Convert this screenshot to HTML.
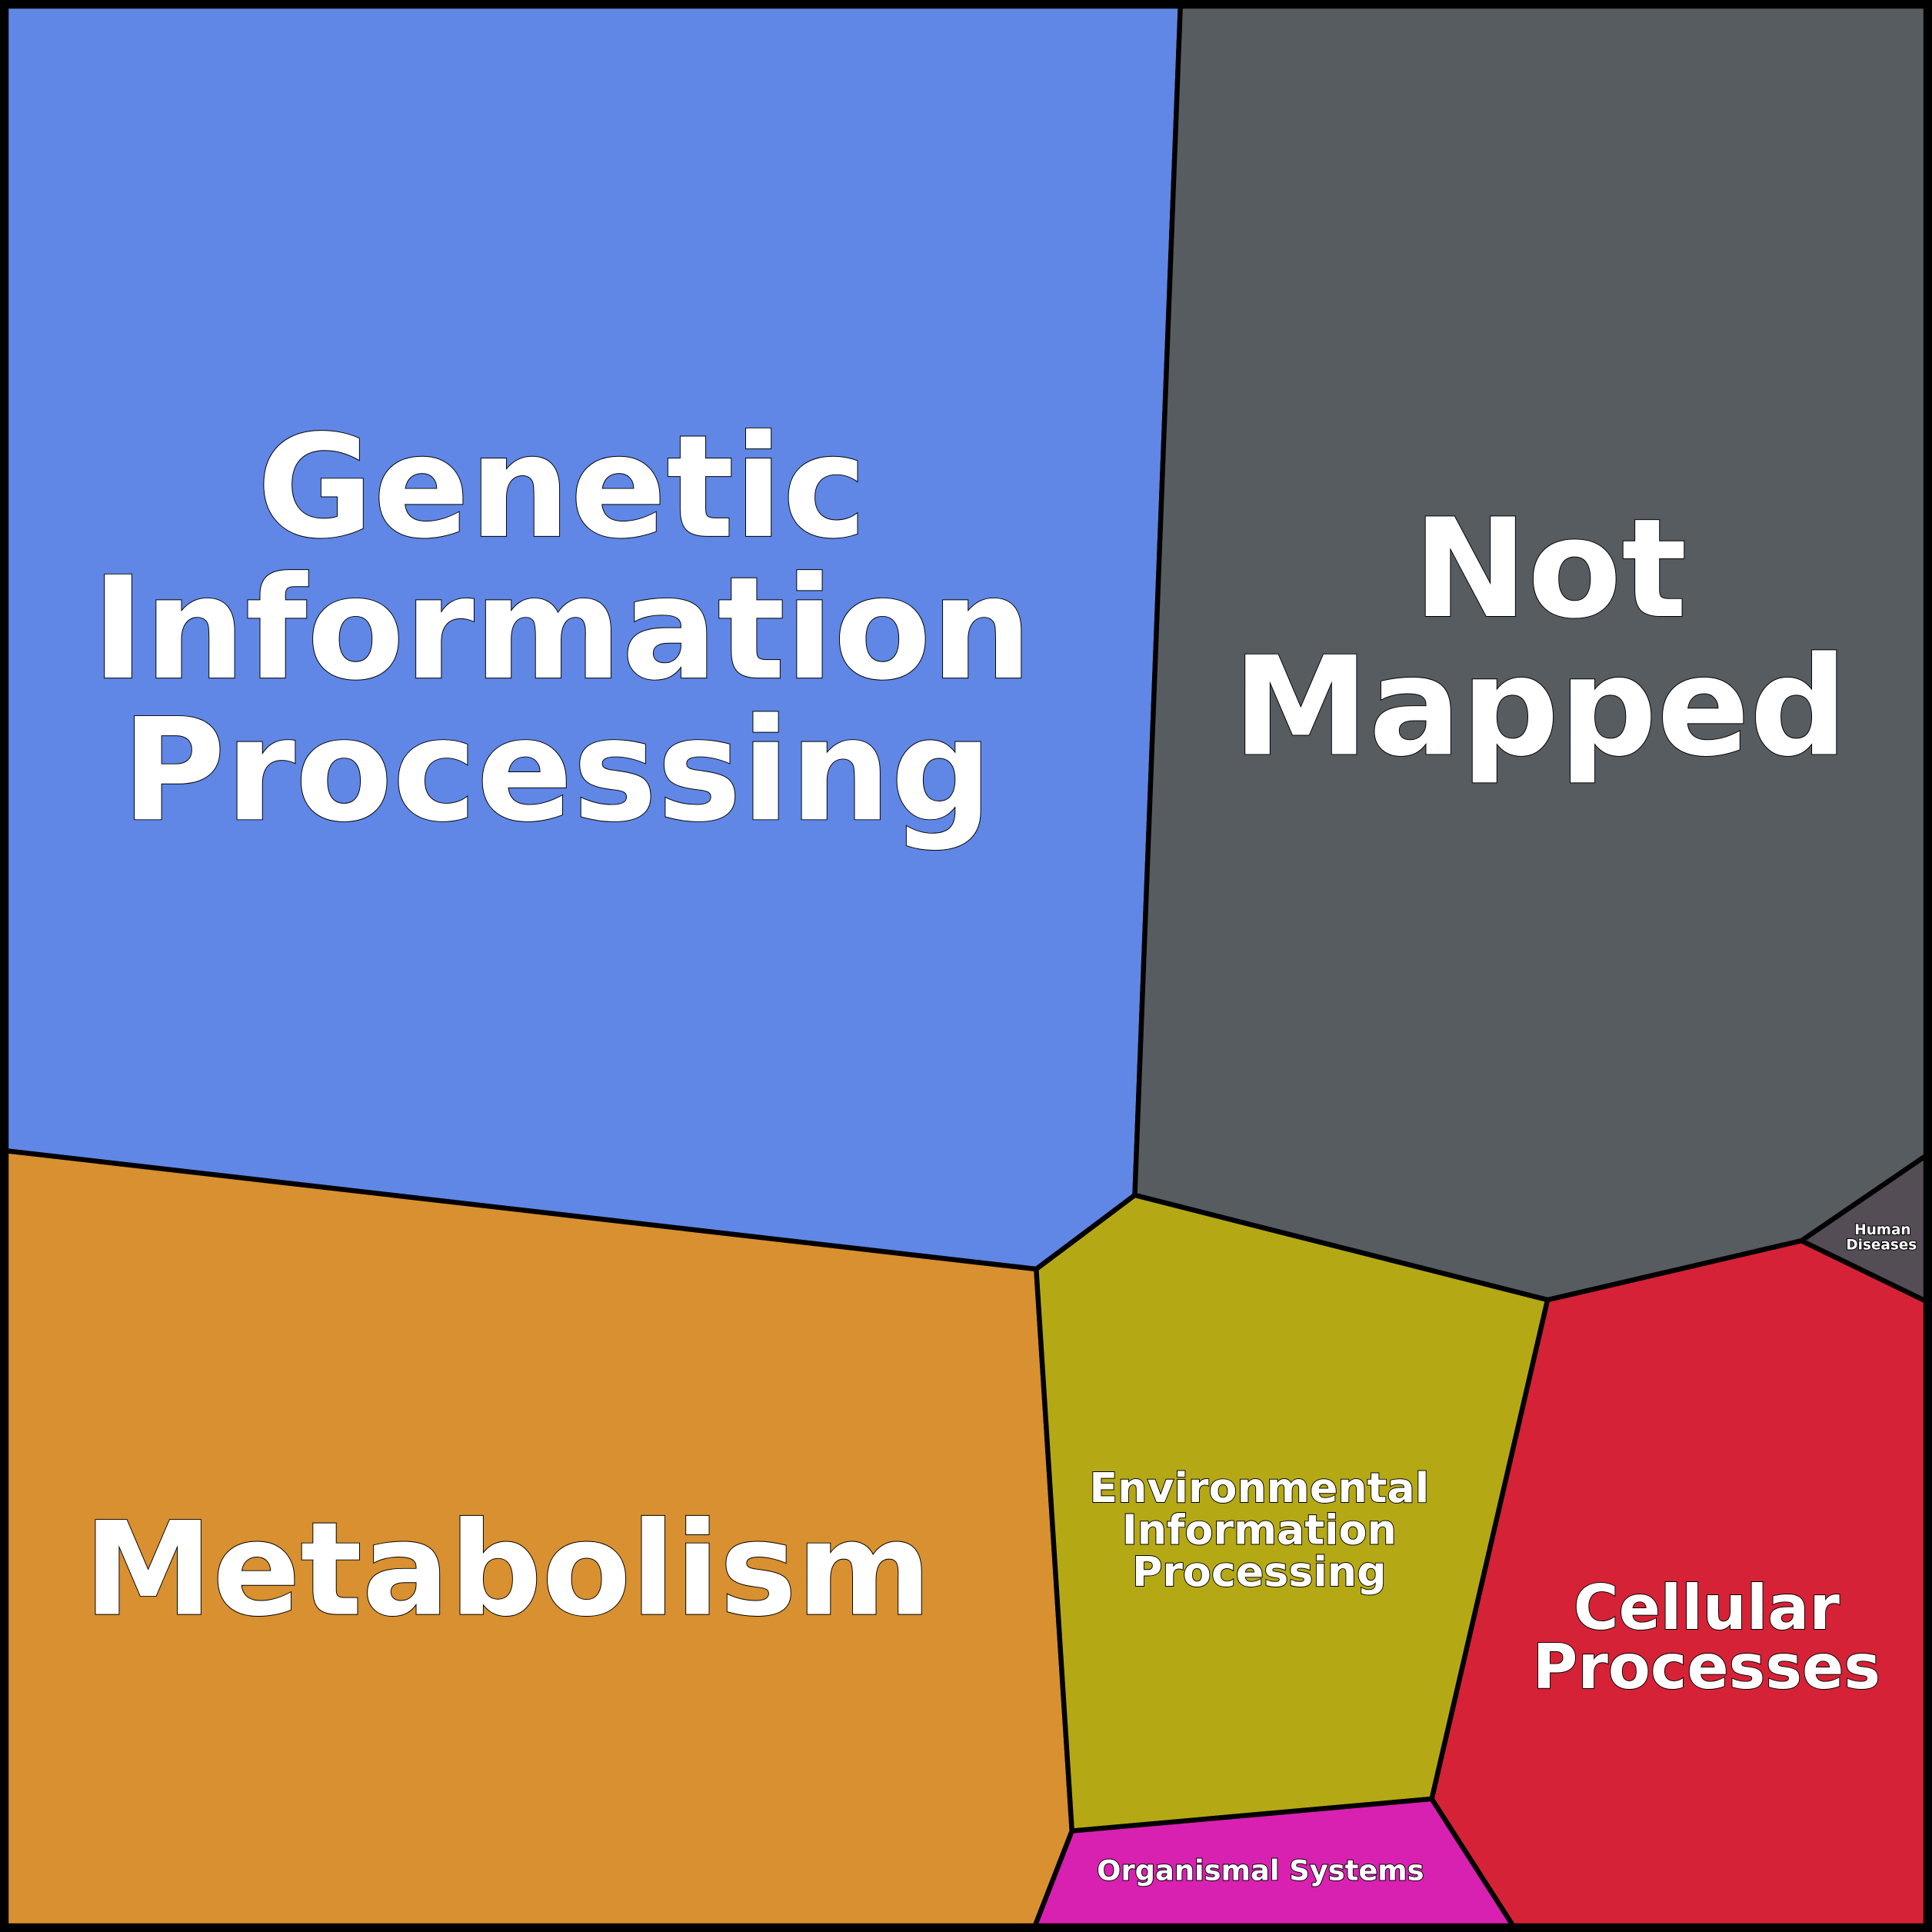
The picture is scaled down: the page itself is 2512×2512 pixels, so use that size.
<!DOCTYPE html>
<html><head><meta charset="utf-8"><style>html,body{margin:0;padding:0;background:#000}svg{display:block}text{font-family:"DejaVu Sans","Liberation Sans",sans-serif;font-weight:bold;fill:#fff;stroke:#000;stroke-width:1.2;paint-order:stroke;text-anchor:middle}</style></head><body>
<svg width="2512" height="2512" viewBox="0 0 1568 1568" xmlns="http://www.w3.org/2000/svg">
<rect x="0" y="0" width="1568" height="1568" fill="#000"/>
<g stroke="#000" stroke-width="4" stroke-linejoin="round">
<polygon points="5,5 958,5 921,970 841,1030 5,934" fill="#6087e5"/>
<polygon points="958,5 1563,5 1563,938 1462,1007 1256,1055 921,970" fill="#575c61"/>
<polygon points="1563,938 1462,1007 1563,1056" fill="#544d55"/>
<polygon points="5,934 841,1030 870,1486 840,1563 5,1563" fill="#d89030"/>
<polygon points="841,1030 921,970 1256,1055 1162,1460 870,1486" fill="#b5a815"/>
<polygon points="1256,1055 1462,1007 1563,1056 1563,1563 1228,1563 1162,1460" fill="#d62236"/>
<polygon points="870,1486 1162,1460 1228,1563 840,1563" fill="#d821b0"/>
</g>
<rect x="3" y="3" width="1562" height="1562" fill="none" stroke="#000" stroke-width="6"/>
<g font-size="115">
<text x="456" y="435">Genetic</text>
<text x="456" y="550">Information</text>
<text x="452" y="665">Processing</text>
</g>
<g font-size="111">
<text x="1258" y="500">Not</text>
<text x="1250" y="612">Mapped</text>
</g>
<text x="412" y="1310" font-size="105">Metabolism</text>
<g font-size="33.6">
<text x="1022" y="1219">Environmental</text>
<text x="1022" y="1253">Information</text>
<text x="1022" y="1287">Processing</text>
</g>
<g font-size="50">
<text x="1385" y="1322">Cellular</text>
<text x="1385" y="1370">Processes</text>
</g>
<text x="1023" y="1526" font-size="23">Organismal Systems</text>
<g font-size="11.5" style="stroke-width:0.5">
<text x="1528" y="1002">Human</text>
<text x="1527" y="1014">Diseases</text>
</g>
</svg>
</body></html>
